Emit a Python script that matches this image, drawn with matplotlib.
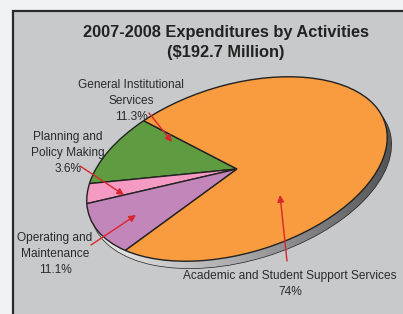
import matplotlib.pyplot as plt
import numpy as np
from matplotlib.patches import Ellipse, Rectangle
from matplotlib.transforms import Affine2D
from matplotlib.colors import LinearSegmentedColormap

labels = ["General Institutional\nServices", "Planning and\nPolicy Making",
          "Operating and\nMaintenance", "Academic and Student Support Services"]
shares = [11.3, 3.6, 11.1, 74.0]
pct_text = ["11.3%", "3.6%", "11.1%", "74%"]
colors = ["#5f9c41", "#f59bc3", "#c386bb", "#f89c3f"]

W, H = 403, 314
fig = plt.figure(figsize=(W / 100, H / 100), dpi=100)
fig.patch.set_facecolor("#f0f2f4")
ax = fig.add_axes([0, 0, 1, 1])

# pie geometry (pixels, y up)
cx, cy = 237, 145
a, b, tilt = 155, 84, 17
ellipse_tf = Affine2D().scale(a, b).rotate_deg(tilt).translate(cx, cy)

wedges, _ = ax.pie(shares, colors=colors, startangle=119, counterclock=True,
                   wedgeprops=dict(edgecolor="#222222", linewidth=1.0))

ax.set_aspect("auto")
ax.set_xlim(0, W)
ax.set_ylim(0, H)
ax.axis("off")

# grey panel with dark border
ax.add_patch(Rectangle((13, -10), W + 10, H - 11 + 10, facecolor="#c8c9cb",
                       edgecolor="#2a2a2a", linewidth=1.6, zorder=0))

# depth of the pie: shifted ellipse with gradient
side = Ellipse((cx + 4, cy - 7), 2 * a, 2 * b, angle=tilt, facecolor="none",
               edgecolor="#222222", linewidth=1.0, zorder=1)
ax.add_patch(side)
grad = np.linspace(0, 1, 256).reshape(1, -1)
side_cmap = LinearSegmentedColormap.from_list("side", ["#f4f4f4", "#a9a9ab", "#4e4e50"])
im = ax.imshow(grad, extent=[cx - a - 5, cx + a + 10, cy - b - 25, cy + b],
               cmap=side_cmap, aspect="auto", zorder=1)
im.set_clip_path(side)

for w in wedges:
    w.set_transform(ellipse_tf + ax.transData)
    w.set_zorder(2)

title_font = dict(family=["Liberation Sans", "DejaVu Sans"], fontsize=11.8,
                  fontweight="bold", color="#222222", ha="center", va="center")
ax.text(226, H - 33, "2007-2008 Expenditures by Activities", **title_font)
ax.text(226, H - 52, "($192.7 Million)", **title_font)

lab_font = dict(family=["Liberation Sans", "DejaVu Sans"], fontsize=8.6,
                color="#2a2a2a", ha="center", va="center", linespacing=1.45)
label_pos = [(131, 101), (68, 153), (55, 254), (290, 284)]
arrow_from = [(149, 113), (80, 166), (91, 245), (287, 261)]
arrow_to = [(172, 142), (124, 195), (136, 215), (280, 195)]

for lab, pct, (lx, ly) in zip(labels, pct_text, label_pos):
    ax.text(lx, H - ly, lab + "\n" + pct, **lab_font)

for (x0, y0), (x1, y1) in zip(arrow_from, arrow_to):
    ax.annotate("", xy=(x1, H - y1), xytext=(x0, H - y0),
                arrowprops=dict(arrowstyle="-|>", color="#d9262e", lw=1.0,
                                mutation_scale=10, shrinkA=0, shrinkB=0),
                zorder=5)

fig.savefig("out.png", dpi=100, facecolor=fig.get_facecolor())
